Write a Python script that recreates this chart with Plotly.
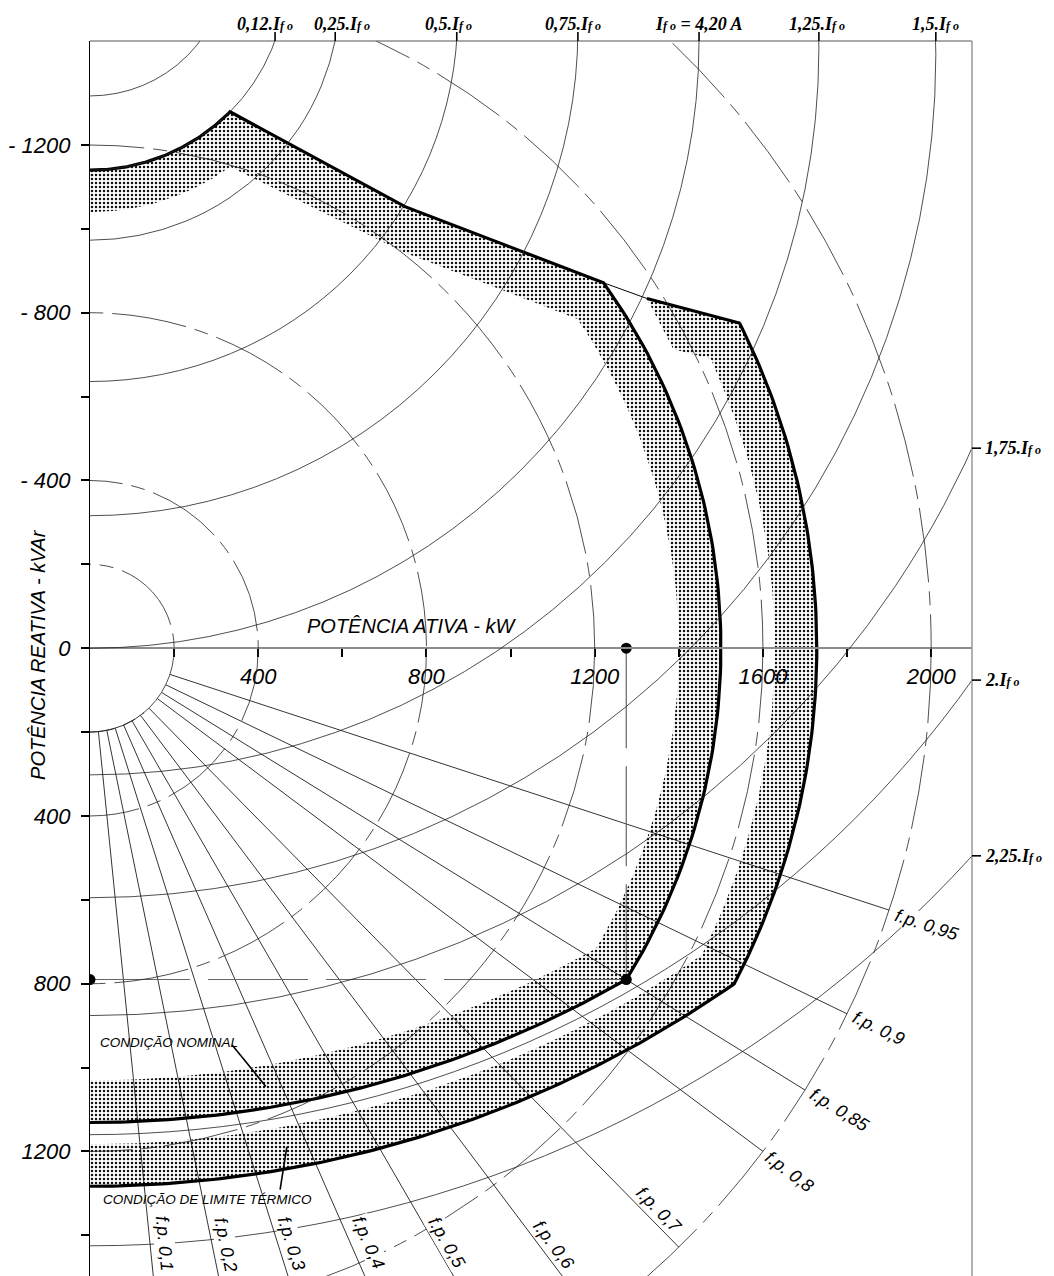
import numpy as np
import plotly.graph_objects as go

# ---------------- values ----------------
P_MAX, Q_TOP, Q_BOTTOM = 2097, -1448, 1497          # visible extents (kW / kVAr)

X_TICKS = [200, 400, 600, 800, 1000, 1200, 1400, 1600, 1800, 2000]
X_TICK_TEXT = ["", "400", "", "800", "", "1200", "", "1600", "", "2000"]
Y_TICKS = [-1200, -1000, -800, -600, -400, -200, 0, 200, 400, 600, 800, 1000, 1200, 1400]
Y_TICK_TEXT = ["- 1200", "", "- 800", "", "- 400", "", "0", "", "400", "", "800", "", "1200", ""]

# constant apparent power circles (kVA), centred on the origin
KVA_RADII = [200, 400, 800, 1200, 1600, 2000]

# field-current circles: centre (0, -FIELD_CENTER), radius FIELD_RADIUS
FIELD_CENTER = [1644, 1608, 1568, 1510, 1476, 1448, 1431, 1416, 1426, 1411, 1405]
FIELD_RADIUS = [327, 468, 595, 874, 1160, 1448, 1733, 2011, 2302, 2571, 2830]

TOP_LABEL_COEF = ["0,12.", "0,25.", "0,5.", "0,75.", "", "1,25.", "1,5."]
TOP_LABEL_P = [440, 583, 872, 1160, 1448, 1733, 2011]
TOP_LABEL_SHIFT = [-10, 7, -8, -5, 0, -2, 0]
RIGHT_LABEL_COEF = ["1,75.", "2.", "2,25."]
RIGHT_LABEL_Q = [-477, 76, 495]

# power-factor lines
PF_VALUES = [0.1, 0.2, 0.3, 0.4, 0.5, 0.6, 0.7, 0.8, 0.85, 0.9, 0.95]
PF_TEXT = ["f.p. 0,1", "f.p. 0,2", "f.p. 0,3", "f.p. 0,4", "f.p. 0,5", "f.p. 0,6",
           "f.p. 0,7", "f.p. 0,8", "f.p. 0,85", "f.p. 0,9", "f.p. 0,95"]
PF_LABEL_P = [178, 323, 480, 663, 849, 1103, 1353, 1664, 1783, 1874, 1990]
PF_LABEL_Q = [1420, 1423, 1420, 1418, 1418, 1423, 1339, 1248, 1100, 906, 660]
PF_R_START, PF_R_END = 200, 2000

# nominal capability curve
NOM_MINEXC = (1608, 468)               # 0,12 If0 circle (centre, radius)
NOM_STAB_P = [333, 749, 1221]
NOM_STAB_Q = [-1279, -1053, -871.5]
S_NOM = 1500
NOM_RATED = (1275, 790)
NOM_FIELD = (1423, 2554)

# thermal-limit capability curve
TH_STAB_P = [1221, 1324, 1546]
TH_STAB_Q = [-871.5, -834, -775]
S_TH = 1728
TH_CORNER = (1531.5, 800.3)
TH_FIELD = (1388, 2671)

# inner edges of the shaded margins
BAND = 100
NOM_IN_STAB_P = [333, 749, 1159]
NOM_IN_STAB_Q = [-1148, -943, -785]
NOM_IN_LOW = (1203, 716)
TH_IN_STAB_P = [1324, 1387, 1476]
TH_IN_STAB_Q = [-834, -713, -690]
TH_IN_LOW = (1454, 732)

DOT_P = [1275, 0, 1275]
DOT_Q = [0, 790, 790]

SANS = "Liberation Sans, Arial, sans-serif"
SERIF = "Liberation Serif, Times New Roman, serif"


# ---------------- geometry helpers ----------------
def arc_origin(r, p0, q0, p1, q1, n=90):
    a = np.linspace(np.arctan2(q0, p0), np.arctan2(q1, p1), n)
    return list(r * np.cos(a)), list(r * np.sin(a))


def arc_field(c, r, p0, p1, n=90):
    p = np.linspace(p0, p1, n)
    return list(p), list(-c + np.sqrt(r ** 2 - p ** 2))


def join(*parts):
    xs, ys = [], []
    for px, py in parts:
        xs += list(px)
        ys += list(py)
    return xs, ys


fig = go.Figure()

# ---- nominal curve & band ----
nA = arc_field(NOM_MINEXC[0], NOM_MINEXC[1], 0, NOM_STAB_P[0])
nB = (NOM_STAB_P, NOM_STAB_Q)
nC = arc_origin(S_NOM, NOM_STAB_P[-1], NOM_STAB_Q[-1], NOM_RATED[0], NOM_RATED[1])
nD = arc_field(NOM_FIELD[0], NOM_FIELD[1], NOM_RATED[0], 0)
nom_x, nom_y = join(nA, nB, nC, nD)

iD = arc_field(NOM_FIELD[0], NOM_FIELD[1] - BAND, 0, NOM_IN_LOW[0])
iC = arc_origin(S_NOM - BAND, NOM_IN_LOW[0], NOM_IN_LOW[1], NOM_IN_STAB_P[-1], NOM_IN_STAB_Q[-1])
iB = (NOM_IN_STAB_P[::-1], NOM_IN_STAB_Q[::-1])
iA = arc_field(NOM_MINEXC[0], NOM_MINEXC[1] + BAND, NOM_IN_STAB_P[0], 0)
nin_x, nin_y = join(iD, iC, iB, iA)

# ---- thermal curve & band ----
tB = (TH_STAB_P[1:], TH_STAB_Q[1:])
tC = arc_origin(S_TH, TH_STAB_P[-1], TH_STAB_Q[-1], TH_CORNER[0], TH_CORNER[1])
tD = arc_field(TH_FIELD[0], TH_FIELD[1], TH_CORNER[0], 0)
th_x, th_y = join(tB, tC, tD)

jD = arc_field(TH_FIELD[0], TH_FIELD[1] - BAND, 0, TH_IN_LOW[0])
jC = arc_origin(S_TH - BAND, TH_IN_LOW[0], TH_IN_LOW[1], TH_IN_STAB_P[-1], TH_IN_STAB_Q[-1])
jB = (TH_IN_STAB_P[::-1], TH_IN_STAB_Q[::-1])
tin_x, tin_y = join(jD, jC, jB)

pattern = dict(shape=".", size=4, solidity=0.3, fgcolor="#111", bgcolor="white", fillmode="replace")
for ox, oy, ix, iy in [(nom_x, nom_y, nin_x, nin_y), (th_x, th_y, tin_x, tin_y)]:
    fig.add_trace(go.Scatter(x=ox + ix, y=oy + iy, mode="lines", fill="toself",
                             fillcolor="white", fillpattern=pattern,
                             line=dict(width=0, color="rgba(0,0,0,0)"), hoverinfo="skip"))

# ---- power-factor lines ----
pfx, pfy = [], []
for pf in PF_VALUES:
    s = np.sqrt(1 - pf ** 2)
    pfx += [PF_R_START * pf, PF_R_END * pf, None]
    pfy += [PF_R_START * s, PF_R_END * s, None]
fig.add_trace(go.Scatter(x=pfx, y=pfy, mode="lines", line=dict(color="black", width=0.8), hoverinfo="skip"))

# small solid arc at the root of the pf lines
sx, sy = arc_origin(KVA_RADII[0], np.cos(np.radians(50)), np.sin(np.radians(50)), 0, 1, 40)
fig.add_trace(go.Scatter(x=sx, y=sy, mode="lines", line=dict(color="black", width=0.8), hoverinfo="skip"))

# ---- dashed rated-point guide lines ----
fig.add_trace(go.Scatter(x=[DOT_P[0], DOT_P[2], None, DOT_P[1], DOT_P[2]],
                         y=[DOT_Q[0], DOT_Q[2], None, DOT_Q[1], DOT_Q[2]],
                         mode="lines", line=dict(color="#666", width=1.2, dash="100px,18px"),
                         hoverinfo="skip"))

# ---- boundary lines ----
fig.add_trace(go.Scatter(x=nom_x, y=nom_y, mode="lines", line=dict(color="black", width=3.2), hoverinfo="skip"))
fig.add_trace(go.Scatter(x=TH_STAB_P[:2], y=TH_STAB_Q[:2], mode="lines", line=dict(color="black", width=1), hoverinfo="skip"))
fig.add_trace(go.Scatter(x=th_x, y=th_y, mode="lines", line=dict(color="black", width=3.2), hoverinfo="skip"))

# leader lines for the two curve labels
fig.add_trace(go.Scatter(x=[338, 418, None, 468, 452], y=[946, 1045, None, 1189, 1291], mode="lines",
                         line=dict(color="black", width=1.6), hoverinfo="skip"))

# ---- rated point markers ----
fig.add_trace(go.Scatter(x=DOT_P, y=DOT_Q, mode="markers", marker=dict(color="black", size=11), hoverinfo="skip"))

# ---- circles as shapes ----
shapes = []
for r in KVA_RADII:
    shapes.append(dict(type="circle", xref="x", yref="y", x0=-r, x1=r, y0=-r, y1=r,
                       line=dict(color="#222", width=0.8, dash="75px,9px,14px,9px"), layer="above"))
for c, r in zip(FIELD_CENTER, FIELD_RADIUS):
    shapes.append(dict(type="circle", xref="x", yref="y", x0=-r, x1=r, y0=-c - r, y1=-c + r,
                       line=dict(color="#222", width=0.8), layer="above"))

# frame (top & right)
shapes.append(dict(type="line", xref="paper", yref="paper", x0=0, x1=1, y0=1, y1=1, line=dict(color="#555", width=1)))
shapes.append(dict(type="line", xref="paper", yref="paper", x0=1, x1=1, y0=0, y1=1, line=dict(color="#999", width=1.5)))

annotations = []
sub = "<span style='font-size:12px'>f o</span>"
lab_font = dict(family=SERIF, size=18, color="black", weight="bold", style="italic")
for coef, p, sh in zip(TOP_LABEL_COEF, TOP_LABEL_P, TOP_LABEL_SHIFT):
    txt = f"{coef}I{sub}" if coef else f"I{sub} = 4,20 A"
    annotations.append(dict(x=p, y=1 + 17 / 1235, xref="x", yref="paper", text=txt, showarrow=False,
                            xshift=sh, yanchor="middle", font=lab_font))
    shapes.append(dict(type="line", xref="x", yref="paper", x0=p, x1=p, y0=1, y1=1 + 9 / 1235,
                       line=dict(color="black", width=1.6)))
for coef, q in zip(RIGHT_LABEL_COEF, RIGHT_LABEL_Q):
    annotations.append(dict(x=1 + 11 / 882, y=q, xref="paper", yref="y", text=f"{coef}I{sub}",
                            showarrow=False, xanchor="left", yanchor="middle", font=lab_font))
    shapes.append(dict(type="line", xref="paper", yref="y", x0=1, x1=1 + 9 / 882, y0=q, y1=q,
                       line=dict(color="black", width=1.6)))

for t, p, q, pf in zip(PF_TEXT, PF_LABEL_P, PF_LABEL_Q, PF_VALUES):
    annotations.append(dict(x=p, y=q, xref="x", yref="y", text=t, showarrow=False,
                            textangle=float(np.degrees(np.arccos(pf))), bgcolor="white", borderpad=0,
                            font=dict(family=SANS, size=18, color="black", style="italic")))

annotations.append(dict(x=19, y=941, xref="x", yref="y", text="CONDIÇÃO NOMINAL", showarrow=False,
                        xanchor="left", font=dict(family=SANS, size=13.5, color="black", style="italic")))
annotations.append(dict(x=26, y=1315, xref="x", yref="y", text="CONDIÇÃO DE LIMITE TÉRMICO", showarrow=False,
                        xanchor="left", font=dict(family=SANS, size=13.5, color="black", style="italic")))
annotations.append(dict(x=766, y=-53, xref="x", yref="y", text="POTÊNCIA ATIVA - kW", showarrow=False,
                        font=dict(family=SANS, size=20, color="black", style="italic")))
annotations.append(dict(x=-65 / 882, y=16, xref="paper", yref="y", text="POTÊNCIA REATIVA - kVAr",
                        showarrow=False, textangle=-90,
                        font=dict(family=SANS, size=20, color="black", style="italic")))

tickfont = dict(family=SANS, size=22, color="black", style="italic")
fig.update_layout(
    template="none",
    width=1038, height=1268,
    margin=dict(l=82, r=74, t=33, b=0, pad=0),
    paper_bgcolor="white", plot_bgcolor="white",
    showlegend=False,
    shapes=shapes, annotations=annotations,
    xaxis=dict(range=[0, P_MAX], domain=[0, 1], anchor="free",
               position=Q_BOTTOM / (Q_BOTTOM - Q_TOP),
               showline=True, linecolor="#8c8c8c", linewidth=2,
               ticks="outside", ticklen=8, tickwidth=1.5, tickcolor="black",
               tickvals=X_TICKS, ticktext=X_TICK_TEXT, tickfont=tickfont,
               showgrid=False, zeroline=False, automargin=False, fixedrange=True),
    yaxis=dict(range=[Q_BOTTOM, Q_TOP], domain=[0, 1],
               showline=True, linecolor="black", linewidth=1.2,
               ticks="outside", ticklen=8, tickwidth=1.5, tickcolor="black",
               tickvals=Y_TICKS, ticktext=Y_TICK_TEXT, tickfont=tickfont, ticklabelstandoff=6,
               showgrid=False, zeroline=False, automargin=False, fixedrange=True),
)

fig.write_html("out.html")
